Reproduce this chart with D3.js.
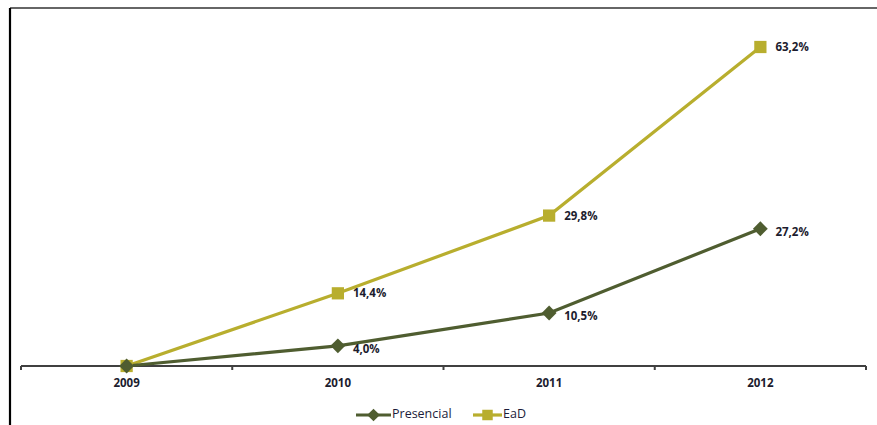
<!DOCTYPE html>
<html>
<head>
<meta charset="utf-8">
<script src="https://cdn.jsdelivr.net/npm/d3@7"></script>
<style>
  html, body { margin: 0; padding: 0; background: #fff; }
  svg { display: block; }
  text { font-family: "Open Sans", "DejaVu Sans", sans-serif; }
</style>
</head>
<body>
<svg id="chart" width="877" height="425"></svg>
<script>
// Growth of enrolments by modality, cumulative % over 2009
const years = ["2009", "2010", "2011", "2012"];
const presencial = [0, 4.0, 10.5, 27.2];
const ead = [0, 14.4, 29.8, 63.2];
const seriesNames = ["Presencial", "EaD"];

const W = 877, H = 425;
const svg = d3.select("#chart");

const x = d3.scaleBand().domain(years).range([21, 866]);
const y = d3.scaleLinear().domain([0, 63.2]).range([366, 47]);
const cx = d => x(d) + x.bandwidth() / 2;

const fmt = v => v.toFixed(1).replace(".", ",") + "%";

// frame lines
svg.append("line").attr("x1", 10).attr("x2", W).attr("y1", 8).attr("y2", 8)
  .attr("stroke", "#666").attr("stroke-width", 2);
svg.append("line").attr("x1", 10).attr("x2", 10).attr("y1", 8).attr("y2", H)
  .attr("stroke", "#000").attr("stroke-width", 2.2);

// category axis with boundary ticks
const axisG = svg.append("g").attr("transform", "translate(0,366)");
axisG.append("line").attr("x1", 21).attr("x2", 866).attr("y1", 0).attr("y2", 0)
  .attr("stroke", "#404040").attr("stroke-width", 2);
const bounds = years.map(d => x(d)).concat([x(years[years.length - 1]) + x.bandwidth()]);
axisG.selectAll("line.tick").data(bounds).enter().append("line")
  .attr("class", "tick")
  .attr("x1", d => d).attr("x2", d => d).attr("y1", 0).attr("y2", 4)
  .attr("stroke", "#404040").attr("stroke-width", 2);
axisG.selectAll("text.lbl").data(years).enter().append("text")
  .attr("class", "lbl")
  .attr("x", d => cx(d)).attr("y", 21)
  .attr("text-anchor", "middle")
  .attr("font-size", "11.5px").attr("font-weight", "bold")
  .attr("fill", "#1c1c2e").text(d => d);

const colors = { Presencial: "#4f5d30", EaD: "#b8ae2e" };
const line = d3.line().x((d, i) => cx(years[i])).y(d => y(d));

// EaD series (drawn first, beneath)
svg.append("path").datum(ead).attr("d", line)
  .attr("fill", "none").attr("stroke", colors.EaD).attr("stroke-width", 3.2);
svg.append("path").datum(presencial).attr("d", line)
  .attr("fill", "none").attr("stroke", colors.Presencial).attr("stroke-width", 3.2);

const sq = d3.symbol().type(d3.symbolSquare).size(150);
// diamond = square turned 45 degrees
const dia = d3.symbol().type(d3.symbolSquare).size(110);

svg.selectAll("path.ead-m").data(ead).enter().append("path")
  .attr("class", "ead-m")
  .attr("d", sq)
  .attr("transform", (d, i) => `translate(${cx(years[i])},${y(d)})`)
  .attr("fill", colors.EaD);

svg.selectAll("path.pre-m").data(presencial).enter().append("path")
  .attr("class", "pre-m")
  .attr("d", dia)
  .attr("transform", (d, i) => `translate(${cx(years[i])},${y(d)}) rotate(45)`)
  .attr("fill", colors.Presencial);

// value labels (first year is the baseline, no label)
const labelStyle = s => s.attr("font-size", "11.5px").attr("font-weight", "bold")
  .attr("fill", "#1c1c2e").attr("dominant-baseline", "middle");

svg.selectAll("text.ead-l").data(ead.slice(1)).enter().append("text")
  .attr("class", "ead-l")
  .attr("x", (d, i) => cx(years[i + 1]) + 15)
  .attr("y", d => y(d) + 1)
  .text(fmt).call(labelStyle);

svg.selectAll("text.pre-l").data(presencial.slice(1)).enter().append("text")
  .attr("class", "pre-l")
  .attr("x", (d, i) => cx(years[i + 1]) + 15)
  .attr("y", d => y(d) + 4)
  .text(fmt).call(labelStyle);

// legend
const legend = svg.append("g").attr("transform", "translate(0,415)");
const items = [
  { name: seriesNames[0], x0: 356, x1: 391, tx: 392, sym: d3.symbol().type(d3.symbolSquare).size(80), rot: 45, color: colors.Presencial },
  { name: seriesNames[1], x0: 473, x1: 502, tx: 503, sym: d3.symbol().type(d3.symbolSquare).size(110), rot: 0, color: colors.EaD }
];
items.forEach(it => {
  legend.append("line").attr("x1", it.x0).attr("x2", it.x1).attr("y1", 0).attr("y2", 0)
    .attr("stroke", it.color).attr("stroke-width", 3.2);
  legend.append("path").attr("d", it.sym)
    .attr("transform", `translate(${(it.x0 + it.x1) / 2},0) rotate(${it.rot})`).attr("fill", it.color);
  legend.append("text").attr("x", it.tx).attr("y", 0)
    .attr("dominant-baseline", "middle")
    .attr("font-size", "12.5px").attr("fill", "#1c1c3a")
    .text(it.name);
});
</script>
</body>
</html>
